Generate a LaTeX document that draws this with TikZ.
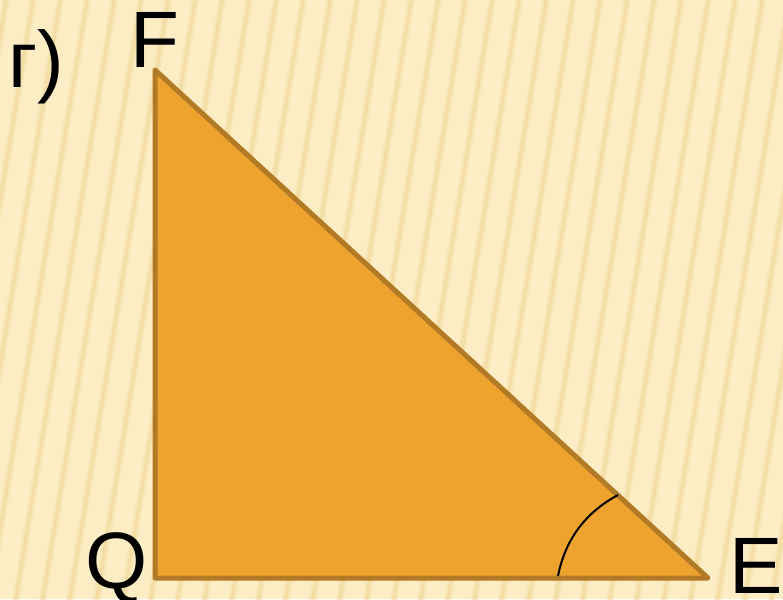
\documentclass[tikz,border=0pt]{standalone}
\usepackage{fontspec}
\setmainfont{Liberation Sans}
\definecolor{bgc}{HTML}{FCEDC4}
\definecolor{stripe}{HTML}{F1D99C}
\definecolor{trifill}{HTML}{EEA32F}
\definecolor{triedge}{HTML}{B37A26}
\tikzset{
  lbl/.style={anchor=base, inner sep=0pt, font=\fontsize{80}{96}\selectfont},
  tri/.style={fill=trifill, draw=triedge, line width=5pt, line join=round},
  anglearc/.style={draw=black, line width=2pt}
}
\begin{document}
\begin{tikzpicture}[x=1pt,y=-1pt]
\fill[bgc] (0,0) rectangle (783,599);
\useasboundingbox (0,0) rectangle (783,599);
\foreach \i in {0,...,36} {
  \draw[stripe, line width=7pt, opacity=0.35] ({-20+27*\i},-5) -- ({-120+27*\i},604);
  \draw[stripe, line width=3.5pt, opacity=0.6] ({-20+27*\i},-5) -- ({-120+27*\i},604);
}
\coordinate (F) at (155,70);
\coordinate (Q) at (155,578);
\coordinate (E) at (708,578);
\path[tri] (F) -- (Q) -- (E) -- cycle;
\coordinate (A1) at (558,576);
\coordinate (A2) at (618,495);
\draw[anglearc] (A1) .. controls (566,535) and (590,510) .. (A2);
\node[lbl] (lf) at (155,68) {F};
\node[lbl] (lq) at (117,588) {Q};
\node[lbl] (le) at (756,593) {E};
\node[lbl] (lg) at (36,88) {г)};
\end{tikzpicture}
\end{document}
